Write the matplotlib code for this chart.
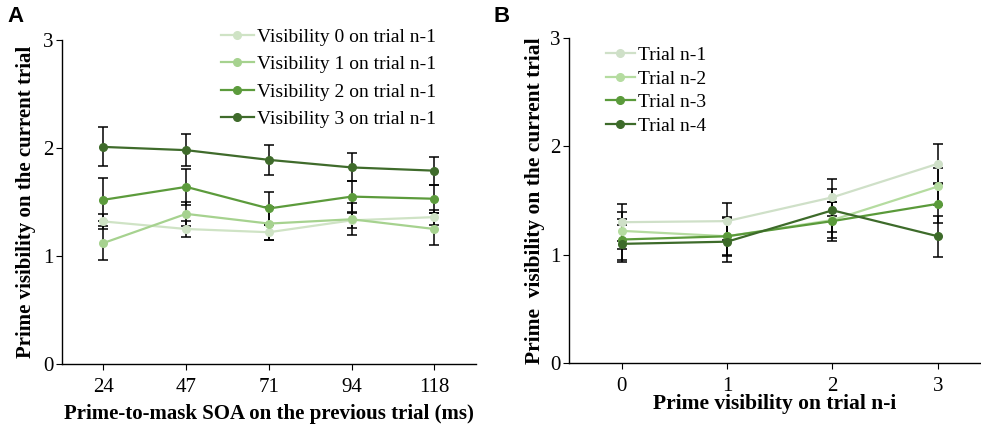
import matplotlib
matplotlib.use("Agg")
import matplotlib.pyplot as plt
import numpy as np

plt.rcParams["font.family"] = ["Liberation Serif", "DejaVu Serif"]

# Panel A data
soa_labels = ["24", "47", "71", "94", "118"]
vis_labels = ["Visibility 0 on trial n-1", "Visibility 1 on trial n-1",
              "Visibility 2 on trial n-1", "Visibility 3 on trial n-1"]
vis0 = [1.32, 1.25, 1.22, 1.33, 1.36]
vis1 = [1.12, 1.39, 1.30, 1.34, 1.25]
vis2 = [1.52, 1.64, 1.44, 1.55, 1.53]
vis3 = [2.01, 1.98, 1.89, 1.82, 1.79]
vis0_err = [0.07, 0.07, 0.07, 0.07, 0.07]
vis1_err = [0.16, 0.11, 0.15, 0.15, 0.15]
vis2_err = [0.20, 0.17, 0.15, 0.14, 0.13]
vis3_err = [0.18, 0.15, 0.14, 0.13, 0.13]

# Panel B data
ni_labels = ["0", "1", "2", "3"]
trial_labels = ["Trial n-1", "Trial n-2", "Trial n-3", "Trial n-4"]
n1 = [1.30, 1.31, 1.53, 1.84]
n2 = [1.22, 1.17, 1.32, 1.63]
n3 = [1.14, 1.17, 1.31, 1.47]
n4 = [1.10, 1.12, 1.41, 1.17]
n1_err = [0.17, 0.17, 0.17, 0.18]
n2_err = [0.17, 0.17, 0.17, 0.17]
n3_err = [0.19, 0.18, 0.18, 0.18]
n4_err = [0.17, 0.19, 0.20, 0.19]

colors_a = ["#cfe3c5", "#a6d28f", "#5c9b3c", "#3f6b2b"]
colors_b = ["#cfe0c8", "#b5dca0", "#5a9a3a", "#3d6b2a"]

fig = plt.figure(figsize=(9.81, 4.24), dpi=100)
axA = fig.add_axes([0.0632, 0.1415, 0.4218, 0.7642])
axB = fig.add_axes([0.580, 0.144, 0.419, 0.766])


def draw(ax, labels, series, errs, colors, xlabels):
    x = np.arange(len(xlabels))
    for lab, s, e, c in zip(labels, series, errs, colors):
        ax.errorbar(x, s, yerr=e, fmt="none", ecolor="black", elinewidth=1.1,
                    capsize=3.5, capthick=1.1, zorder=2)
    for lab, s, e, c in zip(labels, series, errs, colors):
        ax.plot(x, s, color=c, marker="o", markersize=5.5, linewidth=1.6,
                label=lab, zorder=3)
    ax.set_xticks(x)
    ax.set_xticklabels(xlabels, fontsize=15)
    ax.set_ylim(0, 3)
    ax.set_yticks([0, 1, 2, 3])
    ax.tick_params(axis="y", labelsize=15, direction="out", length=4, pad=2)
    ax.tick_params(axis="x", direction="out", length=4, pad=6)
    ax.spines["top"].set_visible(False)
    ax.spines["right"].set_visible(False)
    for sp in ["left", "bottom"]:
        ax.spines[sp].set_linewidth(1.0)


draw(axA, vis_labels, [vis0, vis1, vis2, vis3],
     [vis0_err, vis1_err, vis2_err, vis3_err], colors_a, soa_labels)
axA.set_xlim(-0.5, 4.5)
axA.set_xlabel("Prime-to-mask SOA on the previous trial (ms)",
               fontsize=15, fontweight="bold", labelpad=5)
axA.set_ylabel("Prime visibility on the current trial",
               fontsize=15, fontweight="bold", labelpad=5)
axA.legend(loc="upper left", bbox_to_anchor=(0.365, 1.06), frameon=False,
           fontsize=14, handlelength=1.7, handletextpad=0.15,
           labelspacing=0.5, borderaxespad=0)

draw(axB, trial_labels, [n1, n2, n3, n4],
     [n1_err, n2_err, n3_err, n4_err], colors_b, ni_labels)
axB.set_xlim(-0.5, 3.4)
axB.set_xlabel("Prime visibility on trial n-i",
               fontsize=15.5, fontweight="bold", labelpad=-1)
axB.set_ylabel("Prime  visibility on the current trial",
               fontsize=15.5, fontweight="bold", labelpad=4)
axB.legend(loc="upper left", bbox_to_anchor=(0.07, 0.998), frameon=False,
           fontsize=14, handlelength=1.5, handletextpad=0.15,
           labelspacing=0.3, borderaxespad=0)

fig.text(0.008, 0.985, "A", fontsize=16, fontweight="bold",
         family="Liberation Sans", va="top")
fig.text(0.503, 0.985, "B", fontsize=16, fontweight="bold",
         family="Liberation Sans", va="top")

fig.savefig("out.png", dpi=100)
